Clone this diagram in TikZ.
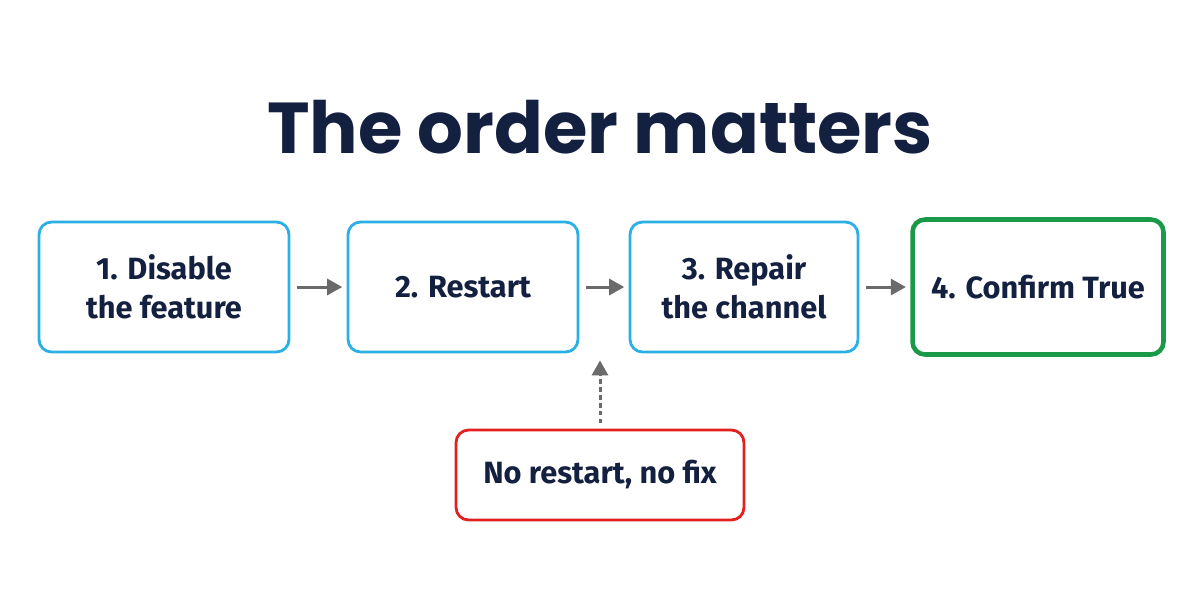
\documentclass[tikz,border=0pt]{standalone}
\usepackage{fontspec}
\setmainfont{Fira Sans}
\newfontfamily\titlefont{Poppins}
\usepackage{xcolor}
\definecolor{navyText}{HTML}{14203F}
\definecolor{stepBlue}{HTML}{2BB0E6}
\definecolor{doneGreen}{HTML}{1A9A48}
\definecolor{warnRed}{HTML}{E3201F}
\definecolor{arrowGray}{HTML}{6A6A6A}
\usetikzlibrary{positioning,arrows.meta}
\tikzset{%
  stepBox/.style={%
    rectangle,
    rounded corners=0.25cm,
    draw=stepBlue,
    line width=1.6pt,
    fill=white,
    text=navyText,
    font=\fontsize{17.5}{22}\selectfont\bfseries,
    minimum width=5cm,
    minimum height=2.6cm,
    align=center
  },
  flowArrow/.style={%
    -{Triangle[length=3mm,width=3.2mm]},
    line width=1.7pt,
    color=arrowGray,
    shorten <=3.5pt,
    shorten >=2.5pt
  }
}

\begin{document}
\begin{tikzpicture}[x=0.02cm,y=-0.02cm]
    \useasboundingbox (0,0) rectangle (1200,600);

    \node[text=navyText, font=\titlefont\fontsize{41}{46}\selectfont\bfseries] (title) at (600,127) {The order matters};

    \node[stepBox] (disable) at (164,287) {1. Disable\\the feature};
    \node[stepBox, minimum width=4.6cm] (restart) at (463,287) {2. Restart};
    \node[stepBox, minimum width=4.56cm] (repair) at (744,287) {3. Repair\\the channel};
    \node[stepBox, draw=doneGreen, line width=2.6pt, minimum width=5.02cm, minimum height=2.7cm] (confirm) at (1038,287) {4. Confirm True};
    \node[stepBox, draw=warnRed, minimum width=5.76cm, minimum height=1.8cm] (norestart) at (600,475) {No restart, no fix};

    \coordinate (gap) at (600,356);

    \draw[flowArrow] (disable) -- (restart);
    \draw[flowArrow] (restart) -- (repair);
    \draw[flowArrow] (repair) -- (confirm);
    \draw[flowArrow, dash pattern=on 2.5pt off 2pt, shorten <=3pt] (norestart.north) -- (gap);

\end{tikzpicture}
\end{document}
